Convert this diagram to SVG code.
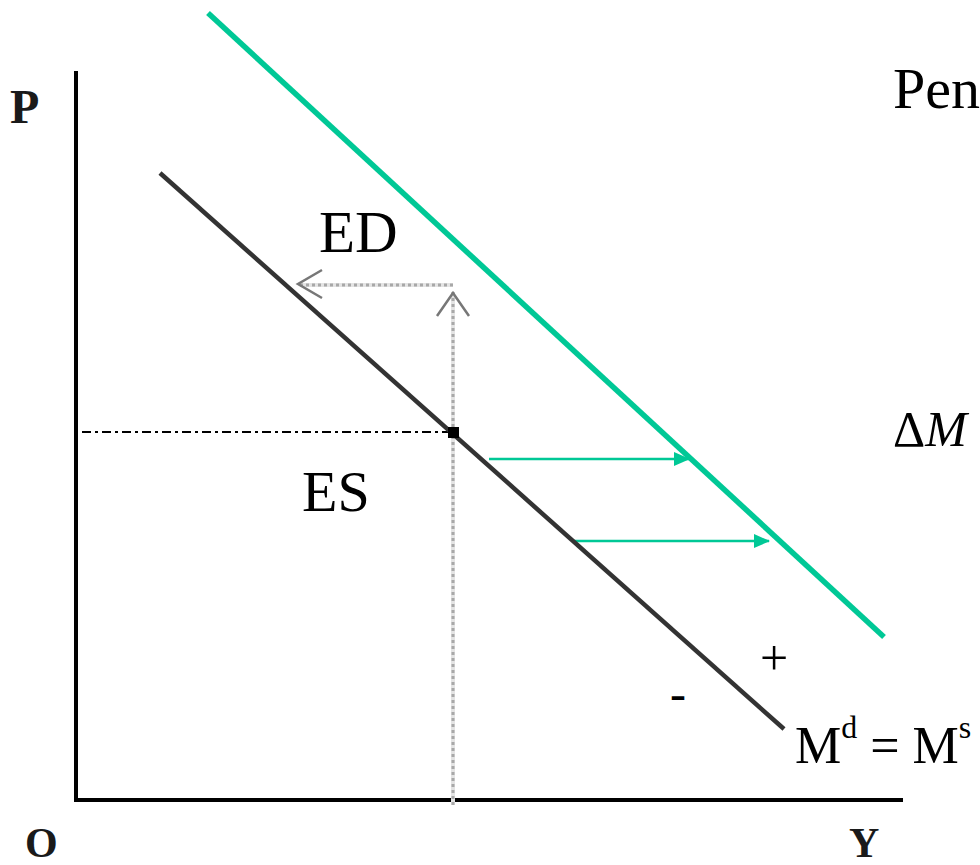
<svg xmlns="http://www.w3.org/2000/svg" width="980" height="865" viewBox="0 0 980 865">
<style>
.t{font-family:"Liberation Serif","Times New Roman",serif;fill:#000}
.b{font-weight:bold;fill:#1a1a1a}
.gray{stroke:#a8a8a8;stroke-width:3;stroke-dasharray:3 3;fill:none}
.grayb{stroke:#e4e4e4;stroke-width:4;fill:none}
.chev{stroke:#777;stroke-width:2.5;fill:none}
.green{stroke:#00c896;fill:none}
</style>
<defs>
<marker id="ga" markerWidth="16" markerHeight="14" refX="15" refY="7" orient="auto" markerUnits="userSpaceOnUse">
<path d="M0,0 L16,7 L0,14 Z" fill="#00c896"/>
</marker>
</defs>
<rect width="980" height="865" fill="#fff"/>
<g id="axes">
<path d="M76,71 V800 H903" stroke="#000" stroke-width="4" fill="none"/>
</g>
<g id="labels-axes">
<text class="t b" x="10" y="123" font-size="48">P</text>
<text class="t b" x="25" y="857" font-size="42">O</text>
<text class="t b" x="849" y="857" font-size="42">Y</text>
</g>
<g id="connectors">
<path class="grayb" d="M453,292 V805 M453,285 H300"/>
<path class="gray" d="M453,292 V805 M453,285 H300"/>
<path class="chev" d="M437,316 L453,293 L469,316"/>
<path class="chev" d="M322,270 L298,284 L322,298"/>
<path d="M82,432 H450" stroke="#000" stroke-width="2.2" stroke-dasharray="9 4 3 4" fill="none"/>
<line class="green" x1="489" y1="459" x2="689" y2="459" stroke-width="2.5" marker-end="url(#ga)"/>
<line class="green" x1="572" y1="541" x2="769" y2="541" stroke-width="2.5" marker-end="url(#ga)"/>
</g>
<g id="curve-md">
<line x1="160" y1="173" x2="784" y2="729" stroke="#333" stroke-width="4.5"/>
</g>
<g id="curve-green">
<line class="green" x1="208" y1="13" x2="884" y2="637" stroke-width="5.5"/>
</g>
<g id="equilibrium">
<rect x="448" y="427" width="11" height="11" fill="#000"/>
</g>
<g id="text-labels">
<text class="t" x="319" y="252" font-size="59">ED</text>
<text class="t" x="302" y="511" font-size="58">ES</text>
<text class="t" x="893" y="108" font-size="58">Pen</text>
<text class="t" x="893" y="446" font-size="50">Δ<tspan font-style="italic">M</tspan></text>
<text class="t" x="760" y="675" font-size="50">+</text>
<text class="t" x="670" y="710" font-size="48">-</text>
<text class="t" x="795" y="763" font-size="52" fill="#1a2a5a">M<tspan font-size="32" dy="-25">d</tspan><tspan dy="25"> = M</tspan><tspan font-size="32" dy="-25">s</tspan></text>
</g>
</svg>
